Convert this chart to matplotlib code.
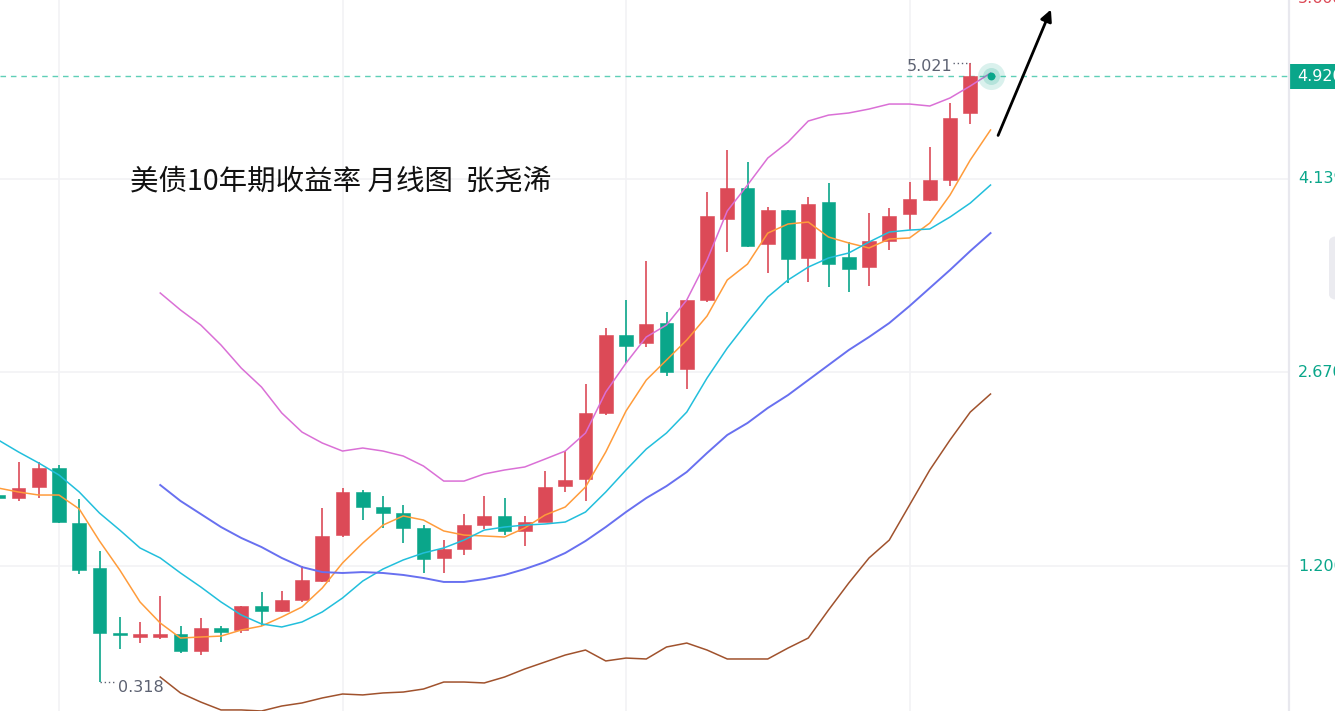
import numpy as np
import matplotlib
matplotlib.use("Agg")
import matplotlib.pyplot as plt
from matplotlib.patches import Rectangle, FancyBboxPatch
from matplotlib.lines import Line2D

# ---------------- data (monthly bars, index -1 .. 47; index 48 = current month) ----------------
bar_start = -1
opens = [1.740, 1.716, 1.800, 1.944, 1.526, 1.185, 0.693, 0.661, 0.661, 0.684, 0.555, 0.729, 0.714,
         0.896, 0.858, 0.942, 1.086, 1.435, 1.762, 1.648, 1.602, 1.489, 1.261, 1.329, 1.511, 1.580,
         1.466, 1.534, 1.807, 1.861, 2.362, 2.954, 2.893, 3.045, 2.696, 3.220, 3.835, 4.070, 3.645,
         3.903, 3.539, 3.964, 3.546, 3.470, 3.668, 3.873, 3.979, 4.131, 4.640]
closes = [1.720, 1.792, 1.944, 1.534, 1.170, 0.691, 0.676, 0.684, 0.684, 0.555, 0.729, 0.699, 0.896,
          0.858, 0.942, 1.094, 1.428, 1.762, 1.648, 1.602, 1.489, 1.253, 1.329, 1.511, 1.580, 1.466,
          1.534, 1.800, 1.853, 2.362, 2.954, 2.870, 3.037, 2.673, 3.220, 3.858, 4.070, 3.630, 3.903,
          3.531, 3.949, 3.493, 3.455, 3.668, 3.858, 3.987, 4.131, 4.602, 4.920]
highs = [1.760, 1.990, 1.990, 1.967, 1.709, 1.314, 0.813, 0.775, 0.972, 0.744, 0.805, 0.744, 0.896,
         1.003, 1.010, 1.200, 1.640, 1.792, 1.777, 1.732, 1.663, 1.511, 1.397, 1.595, 1.732, 1.716,
         1.580, 1.921, 2.073, 2.582, 3.007, 3.220, 3.516, 3.129, 3.220, 4.040, 4.359, 4.268, 3.926,
         3.903, 4.002, 4.108, 3.660, 3.880, 3.918, 4.116, 4.382, 4.716, 5.021]
lows = [1.700, 1.694, 1.716, 1.526, 1.139, 0.318, 0.570, 0.615, 0.646, 0.539, 0.524, 0.623, 0.691,
        0.744, 0.851, 0.927, 1.079, 1.420, 1.549, 1.489, 1.375, 1.147, 1.147, 1.284, 1.481, 1.435,
        1.352, 1.534, 1.762, 1.694, 2.347, 2.741, 2.863, 2.643, 2.544, 3.205, 3.584, 3.622, 3.425,
        3.349, 3.356, 3.318, 3.280, 3.326, 3.599, 3.751, 3.971, 4.085, 4.556]

ma_start = -1
ma5 = [1.792, 1.762, 1.739, 1.739, 1.633, 1.390, 1.170, 0.927, 0.767, 0.653, 0.661, 0.668, 0.714,
       0.744, 0.813, 0.889, 1.033, 1.223, 1.375, 1.511, 1.580, 1.549, 1.466, 1.435, 1.428, 1.420,
       1.489, 1.587, 1.648, 1.800, 2.066, 2.377, 2.612, 2.764, 2.916, 3.098, 3.372, 3.493, 3.728,
       3.797, 3.812, 3.698, 3.653, 3.615, 3.683, 3.691, 3.804, 4.017, 4.283, 4.511]
ma10 = [2.157, 2.066, 1.982, 1.891, 1.762, 1.602, 1.473, 1.337, 1.261, 1.147, 1.041, 0.927, 0.828,
        0.760, 0.737, 0.775, 0.851, 0.957, 1.086, 1.177, 1.246, 1.299, 1.337, 1.397, 1.473, 1.496,
        1.511, 1.519, 1.534, 1.610, 1.762, 1.929, 2.088, 2.210, 2.369, 2.627, 2.855, 3.053, 3.243,
        3.372, 3.470, 3.539, 3.577, 3.660, 3.736, 3.751, 3.759, 3.850, 3.956, 4.093]

boll_start = 7
boll_mid = [1.815, 1.694, 1.595, 1.496, 1.413, 1.344, 1.261, 1.192, 1.154, 1.147, 1.154, 1.147, 1.132,
            1.109, 1.079, 1.079, 1.101, 1.132, 1.177, 1.230, 1.299, 1.390, 1.496, 1.610, 1.716, 1.807,
            1.914, 2.058, 2.195, 2.286, 2.400, 2.498, 2.612, 2.726, 2.840, 2.939, 3.045, 3.174, 3.311,
            3.448, 3.592, 3.728]
boll_up = [3.273, 3.144, 3.030, 2.878, 2.703, 2.559, 2.362, 2.217, 2.134, 2.073, 2.096, 2.073, 2.035,
           1.959, 1.845, 1.845, 1.899, 1.929, 1.952, 2.012, 2.073, 2.210, 2.521, 2.741, 2.939, 3.030,
           3.220, 3.523, 3.896, 4.093, 4.298, 4.419, 4.579, 4.624, 4.640, 4.670, 4.708, 4.708, 4.693,
           4.754, 4.845, 4.943]
boll_low = [0.357, 0.236, 0.167, 0.107, 0.107, 0.099, 0.137, 0.160, 0.198, 0.228, 0.221, 0.236, 0.243,
            0.266, 0.319, 0.319, 0.312, 0.357, 0.418, 0.471, 0.524, 0.562, 0.479, 0.501, 0.494, 0.585,
            0.615, 0.562, 0.494, 0.494, 0.494, 0.577, 0.653, 0.866, 1.071, 1.261, 1.397, 1.663, 1.929,
            2.157, 2.369, 2.506]

last_price = 4.920
current_index = 48
axis_ticks = [1.200, 2.670, 4.139, 5.608]
axis_tick_labels = ["1.200", "2.670", "4.139", "5.608"]
grid_x = [2, 16, 30, 44]
max_label, min_label = "5.021", "0.318"
title = "美债10年期收益率 月线图  张尧浠"

# ---------------- styling ----------------
RED = "#dc4a57"
GREEN = "#0aa68a"
W, H = 1335, 711
PLOT_W = 1288

fig = plt.figure(figsize=(W / 100, H / 100), dpi=100)
fig.patch.set_facecolor("white")
ax = fig.add_axes([0, 0, PLOT_W / W, 1])
ax.set_xlim(-0.9136, 62.69)
ax.set_ylim(0.099, 5.498)
ax.axis("off")

# grid
for gx in grid_x:
    ax.axvline(gx, color="#f2f2f5", lw=1.2, zorder=0)
for gy in axis_ticks:
    ax.axhline(gy, color="#f2f2f5", lw=1.2, zorder=0)

# candles
o = np.array(opens); c = np.array(closes); hi = np.array(highs); lo = np.array(lows)
xs = np.arange(bar_start, bar_start + len(o))
up = c >= o
cols = np.where(up, RED, GREEN)
ax.vlines(xs, lo, hi, colors=cols, lw=1.2, zorder=3)
bottom = np.minimum(o, c)
height = np.maximum(np.abs(c - o), 0.012)
ax.bar(xs, height, bottom=bottom, width=0.68, color=cols, edgecolor=cols, lw=0.4, zorder=4)

# moving averages & bands
xm = np.arange(ma_start, ma_start + len(ma5))
ax.plot(xm, ma5, color="#ff9c3b", lw=1.1, zorder=5)
ax.plot(xm, ma10, color="#22bfdc", lw=1.1, zorder=5)
xb = np.arange(boll_start, boll_start + len(boll_mid))
ax.plot(xb, boll_mid, color="#6870f0", lw=1.4, zorder=5)
ax.plot(xb, boll_up, color="#da70d6", lw=1.1, zorder=5)
ax.plot(xb, boll_low, color="#a0522d", lw=1.1, zorder=5)

# last price line and glowing dot
ax.axhline(last_price, color="#5fcfb7", lw=1.0, ls=(0, (4, 3.5)), zorder=2)
ax.scatter([current_index], [last_price], s=380, color=GREEN, alpha=0.15, lw=0, zorder=6)
ax.scatter([current_index], [last_price], s=150, color=GREEN, alpha=0.18, lw=0, zorder=6)
ax.scatter([current_index], [last_price], s=32, color=GREEN, lw=0, zorder=7)

# max / min annotations
imax = int(np.argmax(hi)); imin = int(np.argmin(lo))
xmax = xs[imax]; xmin = xs[imin]
ax.plot([xmax - 0.85, xmax], [hi[imax], hi[imax]], ls=(0, (1, 2)), color="#5d6272", lw=1.0, zorder=6)
ax.text(xmax - 0.88, hi[imax] - 0.03, max_label, ha="right", va="center", fontsize=11.5,
        color="#5d6272")
ax.plot([xmin, xmin + 0.75], [lo[imin], lo[imin]], ls=(0, (1, 2)), color="#5d6272", lw=1.0, zorder=6)
ax.text(xmin + 0.9, lo[imin] - 0.04, min_label, ha="left", va="center", fontsize=11.5,
        color="#5d6272")

# title
fig.text(130 / W, 1 - 181 / H, title, fontsize=20.5, color="#111111",
         family=["Noto Sans CJK SC", "DejaVu Sans"], ha="left", va="center")

# right price axis
fig.add_artist(Line2D([PLOT_W / W + 0.0004] * 2, [0, 1], color="#e8e8ee", lw=1.6))
ax_to_fig = lambda v: ax.transData.transform((0, v))[1] / H
for v, lab in zip(axis_ticks, axis_tick_labels):
    col = RED if v > last_price else GREEN
    yy = min(ax_to_fig(v), 1 + 1.5 / H)  # top label sits at the upper edge, partly cut
    fig.text(1298 / W, yy, lab, fontsize=11.5, color=col, ha="left", va="center")

ty = ax_to_fig(last_price)
fig.add_artist(Rectangle((1289.5 / W, ty - 12.5 / H), 60 / W, 25 / H,
                         facecolor=GREEN, edgecolor="none", transform=fig.transFigure))
fig.text(1297 / W, ty, f"{last_price:.3f}", fontsize=11.5, color="white", ha="left", va="center")

# small grey handle on the right edge
fig.add_artist(FancyBboxPatch((1329 / W, 1 - 300 / H), 20 / W, 64 / H,
                              boxstyle="round,pad=0,rounding_size=0.008",
                              facecolor="#ebebf0", edgecolor="none", transform=fig.transFigure))

# drawn arrow
ax.annotate("", xy=(1052, H - 7), xycoords="figure pixels",
            xytext=(997, H - 138), textcoords="figure pixels",
            arrowprops=dict(arrowstyle="-|>", color="black", lw=2.0, mutation_scale=17))

fig.savefig("out.png", dpi=100)
